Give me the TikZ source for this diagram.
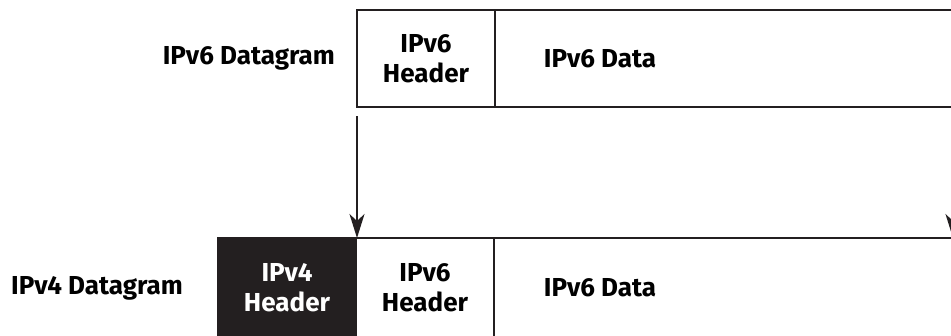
\documentclass[tikz,border=0pt]{standalone}
\usepackage{fontspec}
\setmainfont{Fira Sans}
\usetikzlibrary{arrows.meta,positioning}
\definecolor{boxline}{HTML}{231F20}
\tikzset{
  cell/.style={draw=boxline, line width=2.6pt, minimum height=97pt, inner sep=0pt, outer sep=0pt, align=center,
    font=\bfseries\fontsize{26}{30}\selectfont},
  hdrcell/.style={cell, minimum width=138pt},
  txt/.style={inner sep=0pt, align=center, font=\bfseries\fontsize{26}{30}\selectfont},
  move/.style={boxline, line width=2pt, -{Stealth[length=24pt,width=15pt,inset=7pt]}}
}
\begin{document}
\begin{tikzpicture}[x=1pt,y=-1pt]
\useasboundingbox (0,0) rectangle (951,335);
\clip (0,0) rectangle (951,335);
%% IPv6 datagram
\node[hdrcell] (hdrA) at (426,58.5) {IPv6\\Header};
\node[cell, minimum width=520pt, anchor=west] (dataA) at (hdrA.east) {};
\node[txt] (dataAtxt) at (600,58.5) {IPv6 Data};
\node[txt, anchor=east] (lblA) at (335,58.5) {IPv6 Datagram};
%% IPv4 datagram
\node[hdrcell, fill=boxline, text=white, minimum height=100pt, anchor=north west] (hdrB) at (218,238) {IPv4\\Header};
\node[hdrcell, minimum height=100pt, anchor=north west] (hdrC) at (hdrB.north east) {IPv6\\Header};
\node[cell, minimum width=520pt, minimum height=100pt, anchor=north west] (dataB) at (hdrC.north east) {};
\node[txt] (dataBtxt) at (600,288) {IPv6 Data};
\node[txt] (lblB) at (97,288) {IPv4 Datagram};
%% arrows
\coordinate (fromL) at ([yshift=-9pt]hdrA.south west);
\coordinate (fromR) at (953,116);
\draw[move] (fromL) -- (fromL |- hdrB.north east);
\draw[move] (fromR) -- (fromR |- hdrB.north east);
\end{tikzpicture}
\end{document}
